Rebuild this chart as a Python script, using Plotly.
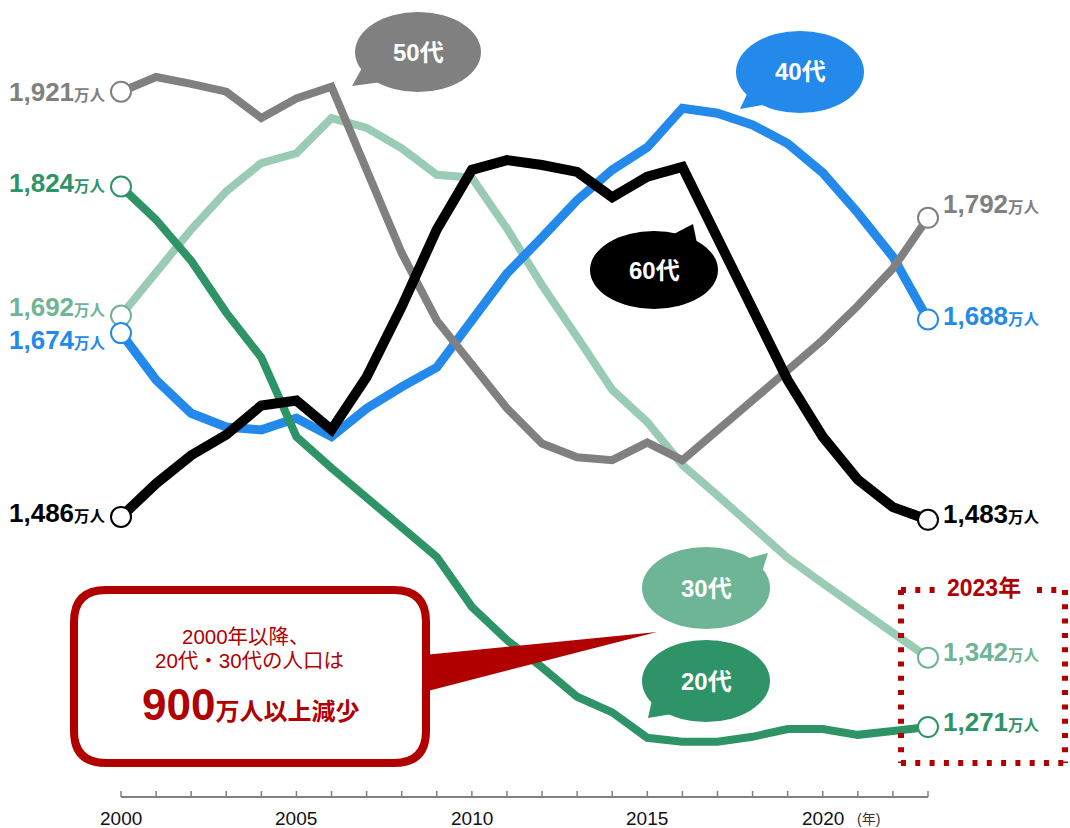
import plotly.graph_objects as go

# ---- data (万人) ----
years = list(range(2000, 2024))

pop_20s = [1824, 1790, 1748, 1695, 1649, 1568, 1536, 1506, 1477, 1445, 1394, 1360,
           1332, 1302, 1286, 1260, 1256, 1256, 1261, 1269, 1269, 1263, 1267, 1271]
pop_30s = [1692, 1737, 1780, 1819, 1848, 1858, 1894, 1884, 1863, 1836, 1833, 1781,
           1723, 1670, 1616, 1583, 1539, 1508, 1477, 1444, 1418, 1392, 1368, 1342]
pop_40s = [1674, 1626, 1592, 1578, 1575, 1587, 1568, 1597, 1619, 1639, 1687, 1735,
           1772, 1810, 1841, 1864, 1904, 1899, 1887, 1868, 1838, 1797, 1752, 1688]
pop_50s = [1921, 1936, 1929, 1921, 1894, 1914, 1926, 1841, 1756, 1687, 1641, 1597,
           1561, 1547, 1544, 1562, 1544, 1574, 1605, 1636, 1667, 1702, 1740, 1792]
pop_60s = [1486, 1520, 1549, 1570, 1600, 1605, 1575, 1629, 1701, 1780, 1841, 1851,
           1846, 1839, 1813, 1834, 1844, 1770, 1695, 1626, 1568, 1524, 1496, 1483]

tick_label_years = [2000, 2005, 2010, 2015, 2020]
unit = "万人"

# ---- canvas / scale ----
W, H = 1070, 828
FONT = "Liberation Sans, Arial, Noto Sans CJK JP, sans-serif"
RED = "#B00000"

X_FIRST_PX, X_LAST_PX = 121, 928          # pixel columns of first / last year
ppy = (X_LAST_PX - X_FIRST_PX) / (years[-1] - years[0])
x_range = [years[0] - X_FIRST_PX / ppy, years[0] + (W - X_FIRST_PX) / ppy]
y_range = [1167.7, 2014.8]


def px(x):
    return x / W


def py(y):
    return 1 - y / H


def path(points):
    return "M " + " L ".join(f"{px(x):.5f},{py(y):.5f}" for x, y in points) + " Z"


# series: values, line colour, label colour, width, start/end label y-shift
series = [
    ("30代", pop_30s, "#9ACBB5", "#6DB596", 8, 9, 6),
    ("40代", pop_40s, "#238AEB", "#238AEB", 9, -7, 3),
    ("50代", pop_50s, "#808080", "#808080", 8, 0, 14),
    ("20代", pop_20s, "#2E9468", "#2E9468", 8, 4, 5),
    ("60代", pop_60s, "#000000", "#000000", 10, 4, 6),
]

fig = go.Figure()

for name, vals, lc, _, lw, _, _ in series:
    fig.add_trace(go.Scatter(x=years, y=vals, mode="lines", name=name,
                             line=dict(color=lc, width=lw), cliponaxis=False,
                             showlegend=False, hoverinfo="skip"))

for name, vals, lc, tc, lw, _, _ in series:
    fig.add_trace(go.Scatter(x=[years[0], years[-1]], y=[vals[0], vals[-1]],
                             mode="markers", showlegend=False, cliponaxis=False,
                             hoverinfo="skip",
                             marker=dict(symbol="circle", size=20, color="white",
                                         line=dict(color=tc, width=2))))

annotations = []


def value_text(v):
    return (f"<b>{v:,}</b><b><span style='font-size:15.5px'>{unit}</span></b>")


for name, vals, lc, tc, lw, s0, s1 in series:
    annotations.append(dict(x=years[0], y=vals[0], xref="x", yref="y",
                            text=value_text(vals[0]), showarrow=False,
                            xanchor="right", yanchor="middle", xshift=-13, yshift=s0,
                            font=dict(family=FONT, size=26, color=tc)))
    annotations.append(dict(x=years[-1], y=vals[-1], xref="x", yref="y",
                            text=value_text(vals[-1]), showarrow=False,
                            xanchor="left", yanchor="middle", xshift=13, yshift=s1,
                            font=dict(family=FONT, size=26, color=tc)))

shapes = []

# ---- x axis: baseline, ticks, labels ----
AXIS_Y = 797
shapes.append(dict(type="line", xref="x", yref="paper", x0=years[0], x1=years[-1],
                   y0=py(AXIS_Y), y1=py(AXIS_Y), line=dict(color="#808080", width=2)))
for yr in years:
    shapes.append(dict(type="line", xref="x", yref="paper", x0=yr, x1=yr,
                       y0=py(AXIS_Y), y1=py(AXIS_Y - 6), line=dict(color="#808080", width=1.5)))
for yr in tick_label_years:
    annotations.append(dict(x=yr, y=py(818), xref="x", yref="paper", text=str(yr),
                            showarrow=False, xanchor="center", yanchor="middle",
                            font=dict(family=FONT, size=19, color="#111111")))
annotations.append(dict(x=px(868), y=py(819), xref="paper", yref="paper", text="(年)",
                        showarrow=False, xanchor="center", yanchor="middle",
                        font=dict(family=FONT, size=14, color="#333333")))

# ---- speech bubbles for each age group ----
bubbles = [
    ("50代", "#808080", (418, 52), 63, 40, [(352, 86), (362, 68), (382, 82)]),
    ("40代", "#238AEB", (800, 72), 64, 41, [(740, 109), (748, 92), (768, 104)]),
    ("60代", "#000000", (654, 270), 64, 39, [(693, 224), (670, 236), (698, 248)]),
    ("30代", "#6DB596", (706, 588), 64, 41, [(768, 553), (742, 560), (762, 572)]),
    ("20代", "#2E9468", (706, 681), 64, 41, [(648, 718), (652, 700), (672, 714)]),
]
for text, col, (cx, cy), rx, ry, tail in bubbles:
    shapes.append(dict(type="path", xref="paper", yref="paper", path=path(tail),
                       fillcolor=col, line=dict(width=0), layer="above"))
    shapes.append(dict(type="circle", xref="paper", yref="paper",
                       x0=px(cx - rx), x1=px(cx + rx), y0=py(cy + ry), y1=py(cy - ry),
                       fillcolor=col, line=dict(width=0), layer="above"))
    annotations.append(dict(x=px(cx), y=py(cy), xref="paper", yref="paper",
                            text=f"<b>{text}</b>", showarrow=False,
                            xanchor="center", yanchor="middle",
                            font=dict(family=FONT, size=24, color="white")))

# ---- red callout box ----
shapes.append(dict(type="path", xref="paper", yref="paper",
                   path=path([(424, 655), (657, 632), (424, 692)]),
                   fillcolor=RED, line=dict(width=0), layer="above"))
bx0, bx1, by0, by1, r = 74, 426, 590, 763, 32
box_path = (f"M {px(bx0 + r)},{py(by0)} L {px(bx1 - r)},{py(by0)} "
            f"Q {px(bx1)},{py(by0)} {px(bx1)},{py(by0 + r)} "
            f"L {px(bx1)},{py(by1 - r)} Q {px(bx1)},{py(by1)} {px(bx1 - r)},{py(by1)} "
            f"L {px(bx0 + r)},{py(by1)} Q {px(bx0)},{py(by1)} {px(bx0)},{py(by1 - r)} "
            f"L {px(bx0)},{py(by0 + r)} Q {px(bx0)},{py(by0)} {px(bx0 + r)},{py(by0)} Z")
shapes.append(dict(type="path", xref="paper", yref="paper", path=box_path,
                   fillcolor="white", line=dict(color=RED, width=8), layer="above"))

annotations.append(dict(x=px(246), y=py(636), xref="paper", yref="paper",
                        text="2000年以降、", showarrow=False, xanchor="center",
                        yanchor="middle", font=dict(family=FONT, size=20.5, color=RED)))
annotations.append(dict(x=px(249), y=py(660), xref="paper", yref="paper",
                        text="20代・30代の人口は", showarrow=False, xanchor="center",
                        yanchor="middle", font=dict(family=FONT, size=20.5, color=RED)))
annotations.append(dict(x=px(250), y=py(704), xref="paper", yref="paper",
                        text="<b>900</b><b><span style='font-size:24px'>万人以上減少</span></b>",
                        showarrow=False, xanchor="center", yanchor="middle",
                        font=dict(family=FONT, size=44, color=RED)))

# ---- dotted frame around the latest year ----
fx0, fx1, fy0, fy1 = 901, 1065, 590, 763
dot = dict(color=RED, width=6, dash="5px,9.3px")
for (x0, y0, x1, y1) in [(fx0, fy0, 935, fy0), (1037, fy0, fx1, fy0),
                         (fx0, fy0, fx0, fy1), (fx1, fy0, fx1, fy1),
                         (fx0, fy1, fx1, fy1)]:
    shapes.append(dict(type="line", xref="paper", yref="paper",
                       x0=px(x0), y0=py(y0), x1=px(x1), y1=py(y1), line=dot))
annotations.append(dict(x=px(984), y=py(588), xref="paper", yref="paper",
                        text=f"<b>{years[-1]}年</b>", showarrow=False,
                        xanchor="center", yanchor="middle",
                        font=dict(family=FONT, size=23, color=RED)))

fig.update_layout(
    width=W, height=H,
    margin=dict(l=0, r=0, t=0, b=0),
    paper_bgcolor="white", plot_bgcolor="white",
    xaxis=dict(range=x_range, visible=False, fixedrange=True),
    yaxis=dict(range=y_range, visible=False, fixedrange=True),
    shapes=shapes, annotations=annotations,
    font=dict(family=FONT),
    showlegend=False,
)

fig.write_html("out.html")
